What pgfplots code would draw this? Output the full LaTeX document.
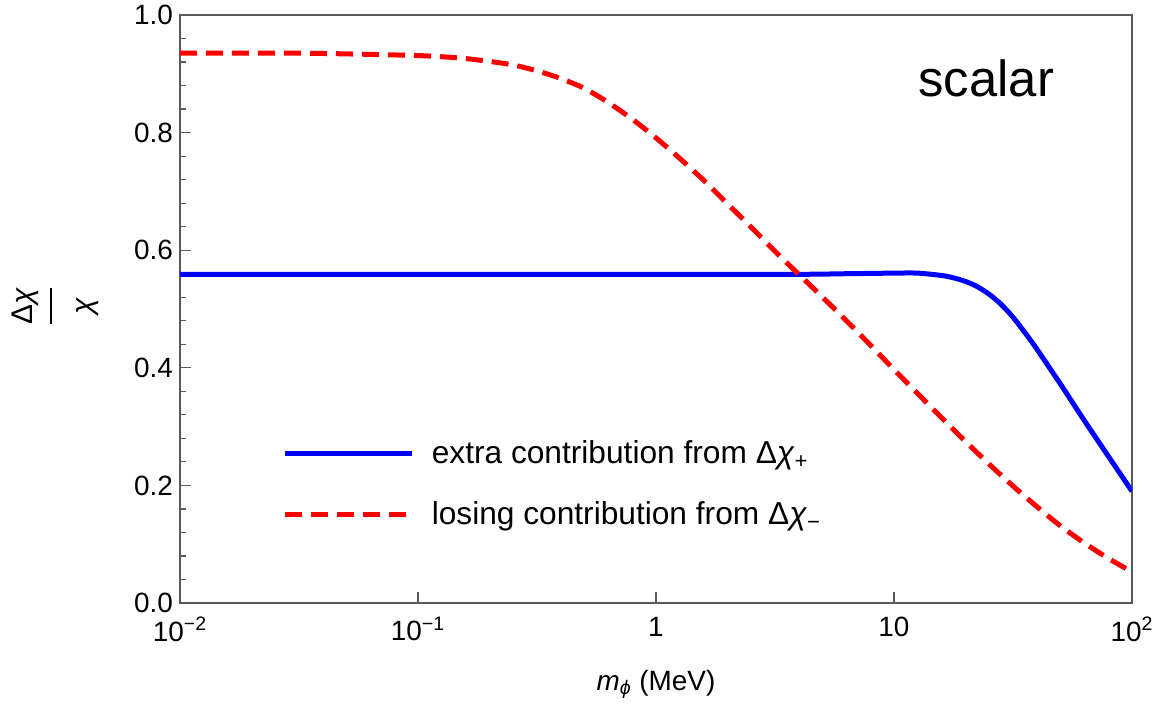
\documentclass[border=0pt]{standalone}
\usepackage{fontspec}
\setmainfont{Liberation Sans}
\usepackage{pgfplots}
\pgfplotsset{compat=1.18}

\begin{document}
\begin{tikzpicture}
\begin{axis}[
  scale only axis, width=476bp, height=294bp,
  xmode=log, xmin=0.01, xmax=100, ymin=0, ymax=1,
  xtick={0.01,0.1,1,10,100},
  xticklabels={10\textsuperscript{−2},10\textsuperscript{−1},1,10,10\textsuperscript{2}},
  xminorticks=false,
  ytick={0,0.2,0.4,0.6,0.8,1},
  yticklabels={0.0,0.2,0.4,0.6,0.8,1.0},
  minor y tick num=4,
  tick pos=left, tick align=inside,
  major tick length=5.5bp, minor tick length=3bp,
  axis line style={black!65, line width=0.7bp},
  every tick/.style={black!65, line width=0.6bp},
  tick label style={font=\fontsize{14}{16}\selectfont},
  xticklabel style={yshift=-3.5bp},
  xlabel={\textit{m}\textsubscript{\textit{ϕ}} (MeV)},
  xlabel style={at={(axis description cs:0.5,-0.139)}, anchor=center, font=\fontsize{14}{16}\selectfont},
  ylabel={$\displaystyle{\mbox{\raisebox{3bp}{Δ\textit{χ}}} \above 1bp \mbox{\raisebox{-7bp}{\textit{χ}}}}$},
  ylabel style={at={(axis description cs:-0.131,0.505)}, anchor=center, font=\fontsize{15}{18}\selectfont},
  legend style={at={(rel axis cs:0.108,0.203)}, anchor=west, draw=none, fill=none,
    inner sep=0pt, outer sep=0pt, font=\fontsize{15.9}{19}\selectfont,
    row sep=17.5bp, column sep=8.5bp, nodes={inner sep=0pt}},
  legend cell align=left,
  legend image code/.code={\draw[#1] (0bp,0bp) -- (63.5bp,0bp);},
]
\addplot[blue, line width=2.5bp, smooth] coordinates {
(0.01,0.559) (0.1,0.559) (1,0.559) (3.981,0.559) (6.310,0.560) (10,0.561)
(12.59,0.561) (15.85,0.557) (17.78,0.553) (19.95,0.547) (22.39,0.538)
(25.12,0.525) (28.18,0.508) (31.62,0.486) (35.48,0.460) (39.81,0.432)
(44.67,0.402) (50.12,0.372) (56.23,0.341) (63.10,0.310) (70.79,0.280)
(79.43,0.250) (89.13,0.220) (100,0.190)
};
\addlegendentry{extra contribution from Δ\textit{χ}\textsubscript{+}}
\addplot[red, line width=2.5bp, dash pattern=on 8.5bp off 4.5bp, smooth] coordinates {
(0.01,0.935) (0.0316,0.935) (0.0631,0.933) (0.1,0.931) (0.126,0.929) (0.158,0.926)
(0.200,0.921) (0.251,0.915) (0.316,0.905) (0.398,0.892) (0.501,0.875) (0.631,0.851)
(0.794,0.823) (1,0.791) (1.259,0.756) (1.585,0.719) (1.995,0.679) (2.512,0.639)
(3.162,0.598) (3.981,0.559) (5.012,0.520) (6.310,0.480) (7.943,0.439) (10,0.397)
(12.59,0.356) (15.85,0.315) (19.95,0.275) (25.12,0.236) (31.62,0.199) (39.81,0.164)
(50.12,0.131) (63.10,0.102) (79.43,0.076) (100,0.053)
};
\addlegendentry{losing contribution from Δ\textit{χ}\textsubscript{−}}
\node[font=\fontsize{25.5}{30}\selectfont] at (rel axis cs:0.847,0.893) {scalar};
\coordinate (sw) at (rel axis cs:0,0);
\coordinate (ne) at (rel axis cs:1,1);
\end{axis}
\pgfresetboundingbox
\path ([shift={(-90bp,-51bp)}]sw) rectangle ([shift={(15.5bp,7.5bp)}]ne);
\end{tikzpicture}
\end{document}
